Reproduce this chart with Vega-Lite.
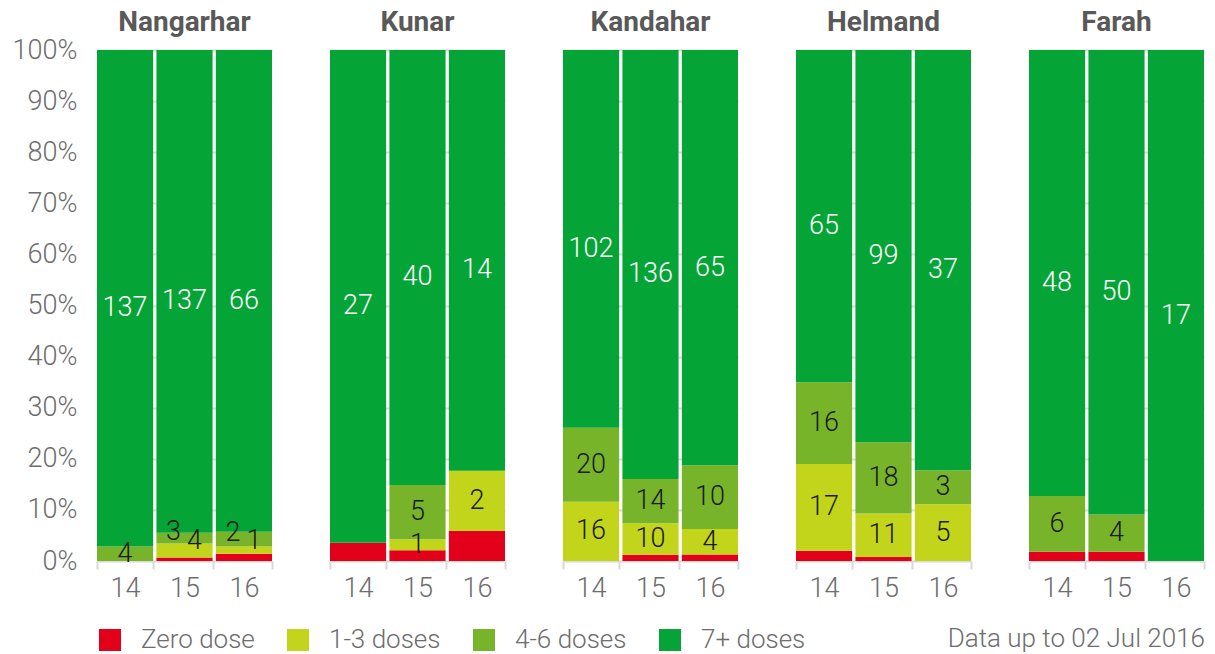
{
  "$schema": "https://vega.github.io/schema/vega-lite/v6.json",
  "padding": {"left": 12, "top": 9, "right": 8, "bottom": 2},
  "background": "white",
  "bounds": "flush",
  "config": {"view": {"stroke": null}, "font": "Roboto"},
  "data": {"values": [
    {"province": "Nangarhar", "year": "14", "dose": "4-6 doses", "rank": 2, "n": 4},
    {"province": "Nangarhar", "year": "14", "dose": "7+ doses", "rank": 3, "n": 137},
    {"province": "Nangarhar", "year": "15", "dose": "Zero dose", "rank": 0, "n": 1},
    {"province": "Nangarhar", "year": "15", "dose": "1-3 doses", "rank": 1, "n": 4},
    {"province": "Nangarhar", "year": "15", "dose": "4-6 doses", "rank": 2, "n": 3},
    {"province": "Nangarhar", "year": "15", "dose": "7+ doses", "rank": 3, "n": 137},
    {"province": "Nangarhar", "year": "16", "dose": "Zero dose", "rank": 0, "n": 1},
    {"province": "Nangarhar", "year": "16", "dose": "1-3 doses", "rank": 1, "n": 1},
    {"province": "Nangarhar", "year": "16", "dose": "4-6 doses", "rank": 2, "n": 2},
    {"province": "Nangarhar", "year": "16", "dose": "7+ doses", "rank": 3, "n": 66},
    {"province": "Kunar", "year": "14", "dose": "Zero dose", "rank": 0, "n": 1},
    {"province": "Kunar", "year": "14", "dose": "7+ doses", "rank": 3, "n": 27},
    {"province": "Kunar", "year": "15", "dose": "Zero dose", "rank": 0, "n": 1},
    {"province": "Kunar", "year": "15", "dose": "1-3 doses", "rank": 1, "n": 1},
    {"province": "Kunar", "year": "15", "dose": "4-6 doses", "rank": 2, "n": 5},
    {"province": "Kunar", "year": "15", "dose": "7+ doses", "rank": 3, "n": 40},
    {"province": "Kunar", "year": "16", "dose": "Zero dose", "rank": 0, "n": 1},
    {"province": "Kunar", "year": "16", "dose": "1-3 doses", "rank": 1, "n": 2},
    {"province": "Kunar", "year": "16", "dose": "7+ doses", "rank": 3, "n": 14},
    {"province": "Kandahar", "year": "14", "dose": "1-3 doses", "rank": 1, "n": 16},
    {"province": "Kandahar", "year": "14", "dose": "4-6 doses", "rank": 2, "n": 20},
    {"province": "Kandahar", "year": "14", "dose": "7+ doses", "rank": 3, "n": 102},
    {"province": "Kandahar", "year": "15", "dose": "Zero dose", "rank": 0, "n": 2},
    {"province": "Kandahar", "year": "15", "dose": "1-3 doses", "rank": 1, "n": 10},
    {"province": "Kandahar", "year": "15", "dose": "4-6 doses", "rank": 2, "n": 14},
    {"province": "Kandahar", "year": "15", "dose": "7+ doses", "rank": 3, "n": 136},
    {"province": "Kandahar", "year": "16", "dose": "Zero dose", "rank": 0, "n": 1},
    {"province": "Kandahar", "year": "16", "dose": "1-3 doses", "rank": 1, "n": 4},
    {"province": "Kandahar", "year": "16", "dose": "4-6 doses", "rank": 2, "n": 10},
    {"province": "Kandahar", "year": "16", "dose": "7+ doses", "rank": 3, "n": 65},
    {"province": "Helmand", "year": "14", "dose": "Zero dose", "rank": 0, "n": 2},
    {"province": "Helmand", "year": "14", "dose": "1-3 doses", "rank": 1, "n": 17},
    {"province": "Helmand", "year": "14", "dose": "4-6 doses", "rank": 2, "n": 16},
    {"province": "Helmand", "year": "14", "dose": "7+ doses", "rank": 3, "n": 65},
    {"province": "Helmand", "year": "15", "dose": "Zero dose", "rank": 0, "n": 1},
    {"province": "Helmand", "year": "15", "dose": "1-3 doses", "rank": 1, "n": 11},
    {"province": "Helmand", "year": "15", "dose": "4-6 doses", "rank": 2, "n": 18},
    {"province": "Helmand", "year": "15", "dose": "7+ doses", "rank": 3, "n": 99},
    {"province": "Helmand", "year": "16", "dose": "1-3 doses", "rank": 1, "n": 5},
    {"province": "Helmand", "year": "16", "dose": "4-6 doses", "rank": 2, "n": 3},
    {"province": "Helmand", "year": "16", "dose": "7+ doses", "rank": 3, "n": 37},
    {"province": "Farah", "year": "14", "dose": "Zero dose", "rank": 0, "n": 1},
    {"province": "Farah", "year": "14", "dose": "4-6 doses", "rank": 2, "n": 6},
    {"province": "Farah", "year": "14", "dose": "7+ doses", "rank": 3, "n": 48},
    {"province": "Farah", "year": "15", "dose": "Zero dose", "rank": 0, "n": 1},
    {"province": "Farah", "year": "15", "dose": "4-6 doses", "rank": 2, "n": 4},
    {"province": "Farah", "year": "15", "dose": "7+ doses", "rank": 3, "n": 50},
    {"province": "Farah", "year": "16", "dose": "7+ doses", "rank": 3, "n": 17}
  ]},
  "title": {
    "text": "Data up to 02 Jul 2016",
    "orient": "bottom",
    "anchor": "end",
    "fontSize": 26,
    "fontWeight": 300,
    "color": "#6d6d6d",
    "offset": -27
  },
  "facet": {
    "column": {
      "field": "province",
      "type": "nominal",
      "sort": ["Nangarhar", "Kunar", "Kandahar", "Helmand", "Farah"],
      "header": {
        "title": null,
        "labelFontSize": 28,
        "labelFontWeight": "bold",
        "labelColor": "#595959",
        "labelPadding": 13
      }
    }
  },
  "spacing": 58,
  "spec": {
    "width": 175,
    "height": 511,
    "encoding": {
      "x": {
        "field": "year",
        "type": "nominal",
        "title": null,
        "scale": {"paddingInner": 0.055, "paddingOuter": 0},
        "axis": {
          "labelAngle": 0,
          "domain": false,
          "ticks": true,
          "tickBand": "extent",
          "tickSize": 8,
          "tickWidth": 2,
          "tickColor": "#d9d9d9",
          "grid": false,
          "labelFontSize": 27,
          "labelFontWeight": 300,
          "labelColor": "#6d6d6d",
          "labelPadding": 6
        }
      }
    },
    "layer": [
      {
        "mark": {"type": "bar"},
        "encoding": {
          "y": {
            "field": "n",
            "type": "quantitative",
            "stack": "normalize",
            "title": null,
            "axis": {
              "values": [0, 0.1, 0.2, 0.3, 0.4, 0.5, 0.6, 0.7, 0.8, 0.9, 1],
              "format": ".0%",
              "domain": false,
              "ticks": false,
              "grid": true,
              "gridColor": "#d9d9d9",
              "gridWidth": 2,
              "labelFontSize": 27,
              "labelFontWeight": 300,
              "labelColor": "#6d6d6d",
              "labelPadding": 20,
              "labelOverlap": false
            }
          },
          "color": {
            "field": "dose",
            "type": "nominal",
            "scale": {
              "domain": ["Zero dose", "1-3 doses", "4-6 doses", "7+ doses"],
              "range": ["#e2001a", "#c3d51a", "#78b42a", "#04a536"]
            },
            "legend": {
              "orient": "bottom",
              "direction": "horizontal",
              "title": null,
              "symbolType": "square",
              "symbolSize": 484,
              "symbolStrokeWidth": 0,
              "labelFontSize": 26,
              "labelFontWeight": 300,
              "labelColor": "#6d6d6d",
              "labelOffset": 18,
              "columnPadding": 30,
              "offset": 26
            }
          },
          "order": {"field": "rank", "type": "quantitative"}
        }
      },
      {
        "mark": {"type": "text", "fontSize": 27, "fontWeight": 300, "color": "white", "baseline": "middle", "dy": 10},
        "encoding": {
          "y": {"field": "n", "type": "quantitative", "stack": "normalize", "bandPosition": 0.5, "title": null},
          "detail": {"field": "dose"},
          "order": {"field": "rank", "type": "quantitative"},
          "text": {"field": "n", "type": "quantitative", "condition": {"test": "datum.dose != '7+ doses'", "value": ""}}
        }
      },
      {
        "mark": {"type": "text", "fontSize": 27, "fontWeight": 300, "color": "#1a1a1a", "baseline": "middle"},
        "encoding": {
          "y": {"field": "n", "type": "quantitative", "stack": "normalize", "bandPosition": 0.5, "title": null},
          "detail": {"field": "dose"},
          "order": {"field": "rank", "type": "quantitative"},
          "text": {"field": "n", "type": "quantitative", "condition": {"test": "datum.dose == '7+ doses' || datum.dose == 'Zero dose' || (datum.province == 'Nangarhar' && datum.year != '14')", "value": ""}}
        }
      },
      {
        "mark": {"type": "text", "fontSize": 27, "fontWeight": 300, "color": "#1a1a1a", "baseline": "middle", "dx": -11, "dy": -6},
        "encoding": {
          "y": {"field": "n", "type": "quantitative", "stack": "normalize", "bandPosition": 0.5, "title": null},
          "detail": {"field": "dose"},
          "order": {"field": "rank", "type": "quantitative"},
          "text": {"field": "n", "type": "quantitative", "condition": {"test": "!(datum.province == 'Nangarhar' && datum.year != '14' && datum.dose == '4-6 doses')", "value": ""}}
        }
      },
      {
        "mark": {"type": "text", "fontSize": 27, "fontWeight": 300, "color": "#1a1a1a", "baseline": "middle", "dx": 10, "dy": -9},
        "encoding": {
          "y": {"field": "n", "type": "quantitative", "stack": "normalize", "bandPosition": 0.5, "title": null},
          "detail": {"field": "dose"},
          "order": {"field": "rank", "type": "quantitative"},
          "text": {"field": "n", "type": "quantitative", "condition": {"test": "!(datum.province == 'Nangarhar' && datum.year != '14' && datum.dose == '1-3 doses')", "value": ""}}
        }
      }
    ]
  }
}
